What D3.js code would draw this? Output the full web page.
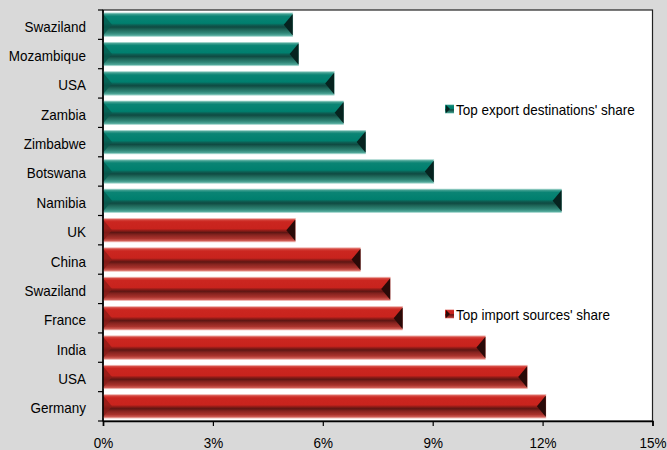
<!DOCTYPE html>
<html>
<head>
<meta charset="utf-8">
<script src="https://cdn.jsdelivr.net/npm/d3@7"></script>
<style>
  html, body { margin: 0; padding: 0; background: #d9d9d9; }
  svg { display: block; }
  text { font-family: "Liberation Sans", Arial, sans-serif; fill: #000; }
</style>
</head>
<body>
<svg id="chart" width="667" height="450"></svg>
<script>
// ---- data ----
const exportCountries = ["Swaziland", "Mozambique", "USA", "Zambia", "Zimbabwe", "Botswana", "Namibia"];
const exportShares    = [5.18, 5.34, 6.31, 6.57, 7.17, 9.03, 12.52];
const importCountries = ["UK", "China", "Swaziland", "France", "India", "USA", "Germany"];
const importShares    = [5.25, 7.03, 7.84, 8.18, 10.44, 11.58, 12.09];
const xTickValues     = [0, 3, 6, 9, 12, 15];
const seriesNames     = ["Top export destinations' share", "Top import sources' share"];

// ---- build rows ----
const rows = [];
exportCountries.forEach((c, i) => rows.push({ key: "e" + i, label: c, value: exportShares[i], series: 0 }));
importCountries.forEach((c, i) => rows.push({ key: "i" + i, label: c, value: importShares[i], series: 1 }));

const W = 667, H = 450;
const plot = { left: 103, right: 652.5, top: 10, bottom: 421 };
const FS = 15, SX = 0.9; // font size and horizontal condensing

const svg = d3.select("#chart");
svg.append("rect").attr("width", W).attr("height", H).attr("fill", "#d9d9d9");

const x = d3.scaleLinear().domain([0, 15]).range([plot.left, plot.right]);
const y = d3.scaleBand().domain(rows.map(d => d.key)).range([plot.top, plot.bottom])
  .paddingInner(0.2).paddingOuter(0.1);

// gradients
const defs = svg.append("defs");
const palettes = [
  { stops: [[0, "#7cc2b6"], [0.06, "#3a9c8d"], [0.14, "#0a8474"], [0.44, "#007f6e"], [0.52, "#0d5d52"],
            [0.6, "#0f4a42"], [0.7, "#1d6457"], [0.85, "#2f8576"], [0.95, "#4fa698"], [1, "#8fcfc4"]],
    left: "#07594e", right: "#06231f" },
  { stops: [[0, "#e58b85"], [0.06, "#d4443d"], [0.14, "#cb2620"], [0.44, "#c8231d"], [0.52, "#8d1b17"],
            [0.6, "#5e1613"], [0.7, "#86231f"], [0.85, "#a9322c"], [0.95, "#cf5c55"], [1, "#eaa19b"]],
    left: "#8b1c18", right: "#2a0a08" }
];
palettes.forEach((p, i) => {
  const g = defs.append("linearGradient").attr("id", "grad" + i)
    .attr("x1", 0).attr("y1", 0).attr("x2", 0).attr("y2", 1);
  p.stops.forEach(s => g.append("stop").attr("offset", s[0]).attr("stop-color", s[1]));
});

// plot background
svg.append("rect")
  .attr("x", plot.left).attr("y", plot.top)
  .attr("width", plot.right - plot.left).attr("height", plot.bottom - plot.top)
  .attr("fill", "#fff").attr("stroke", "#222").attr("stroke-width", 1.2);

// bars
const bw = y.bandwidth();
const bev = 9;
const bars = svg.append("g").selectAll("g").data(rows).join("g");
bars.append("rect")
  .attr("x", x(0)).attr("y", d => y(d.key))
  .attr("width", d => x(d.value) - x(0)).attr("height", bw)
  .attr("fill", d => `url(#grad${d.series})`)
  .attr("stroke", d => d.series === 0 ? "#9fd3ca" : "#efb3ae").attr("stroke-width", 0.6);
bars.append("path")
  .attr("d", d => {
    const t = y(d.key), b = t + bw, m = t + bw / 2, x0 = x(0);
    return `M${x0},${t + 1}L${x0 + bev},${m}L${x0},${b - 1}Z`;
  })
  .attr("fill", d => palettes[d.series].left).attr("opacity", 0.75);
bars.append("path")
  .attr("d", d => {
    const t = y(d.key), b = t + bw, m = t + bw / 2, xe = x(d.value);
    return `M${xe},${t + 1}L${xe - bev},${m}L${xe},${b - 1}Z`;
  })
  .attr("fill", d => palettes[d.series].right);

// y axis with ticks at band boundaries
const yAxisG = svg.append("g");
yAxisG.append("line")
  .attr("x1", plot.left).attr("x2", plot.left)
  .attr("y1", plot.top).attr("y2", plot.bottom)
  .attr("stroke", "#000").attr("stroke-width", 1.6);
const boundaries = d3.range(rows.length + 1).map(i => plot.top + i * y.step());
yAxisG.selectAll("line.tick").data(boundaries).join("line").attr("class", "tick")
  .attr("x1", plot.left - 5).attr("x2", plot.left)
  .attr("y1", d => d).attr("y2", d => d)
  .attr("stroke", "#000").attr("stroke-width", 1.2);
yAxisG.selectAll("text").data(rows).join("text")
  .attr("transform", d => `translate(86,${y(d.key) + bw / 2 + 7}) scale(${SX},1)`)
  .attr("text-anchor", "end").attr("font-size", FS)
  .text(d => d.label);

// x axis
const xAxis = d3.axisBottom(x).tickValues(xTickValues).tickFormat(d => d + "%").tickSize(5).tickPadding(11);
const xg = svg.append("g").attr("transform", `translate(0,${plot.bottom})`).call(xAxis);
xg.select(".domain").attr("stroke", "#000").attr("stroke-width", 1.6);
xg.selectAll(".tick line").attr("stroke", "#000").attr("stroke-width", 1.2);
xg.selectAll(".tick text").attr("font-size", FS).attr("fill", "#000")
  .attr("font-family", "Liberation Sans, Arial, sans-serif")
  .attr("transform", `scale(${SX},1)`);

// legends
const legendPos = [[445, 109], [445, 314]];
seriesNames.forEach((name, i) => {
  const g = svg.append("g").attr("transform", `translate(${legendPos[i][0]},${legendPos[i][1]})`);
  g.append("rect").attr("x", 0).attr("y", -4.5).attr("width", 9).attr("height", 9)
    .attr("fill", `url(#grad${i})`);
  g.append("path").attr("d", "M1,-4L5,0L1,4Z").attr("fill", palettes[i].right);
  g.append("text").attr("transform", `translate(11,5.5) scale(${SX},1)`)
    .attr("font-size", FS).text(name);
});
</script>
</body>
</html>
